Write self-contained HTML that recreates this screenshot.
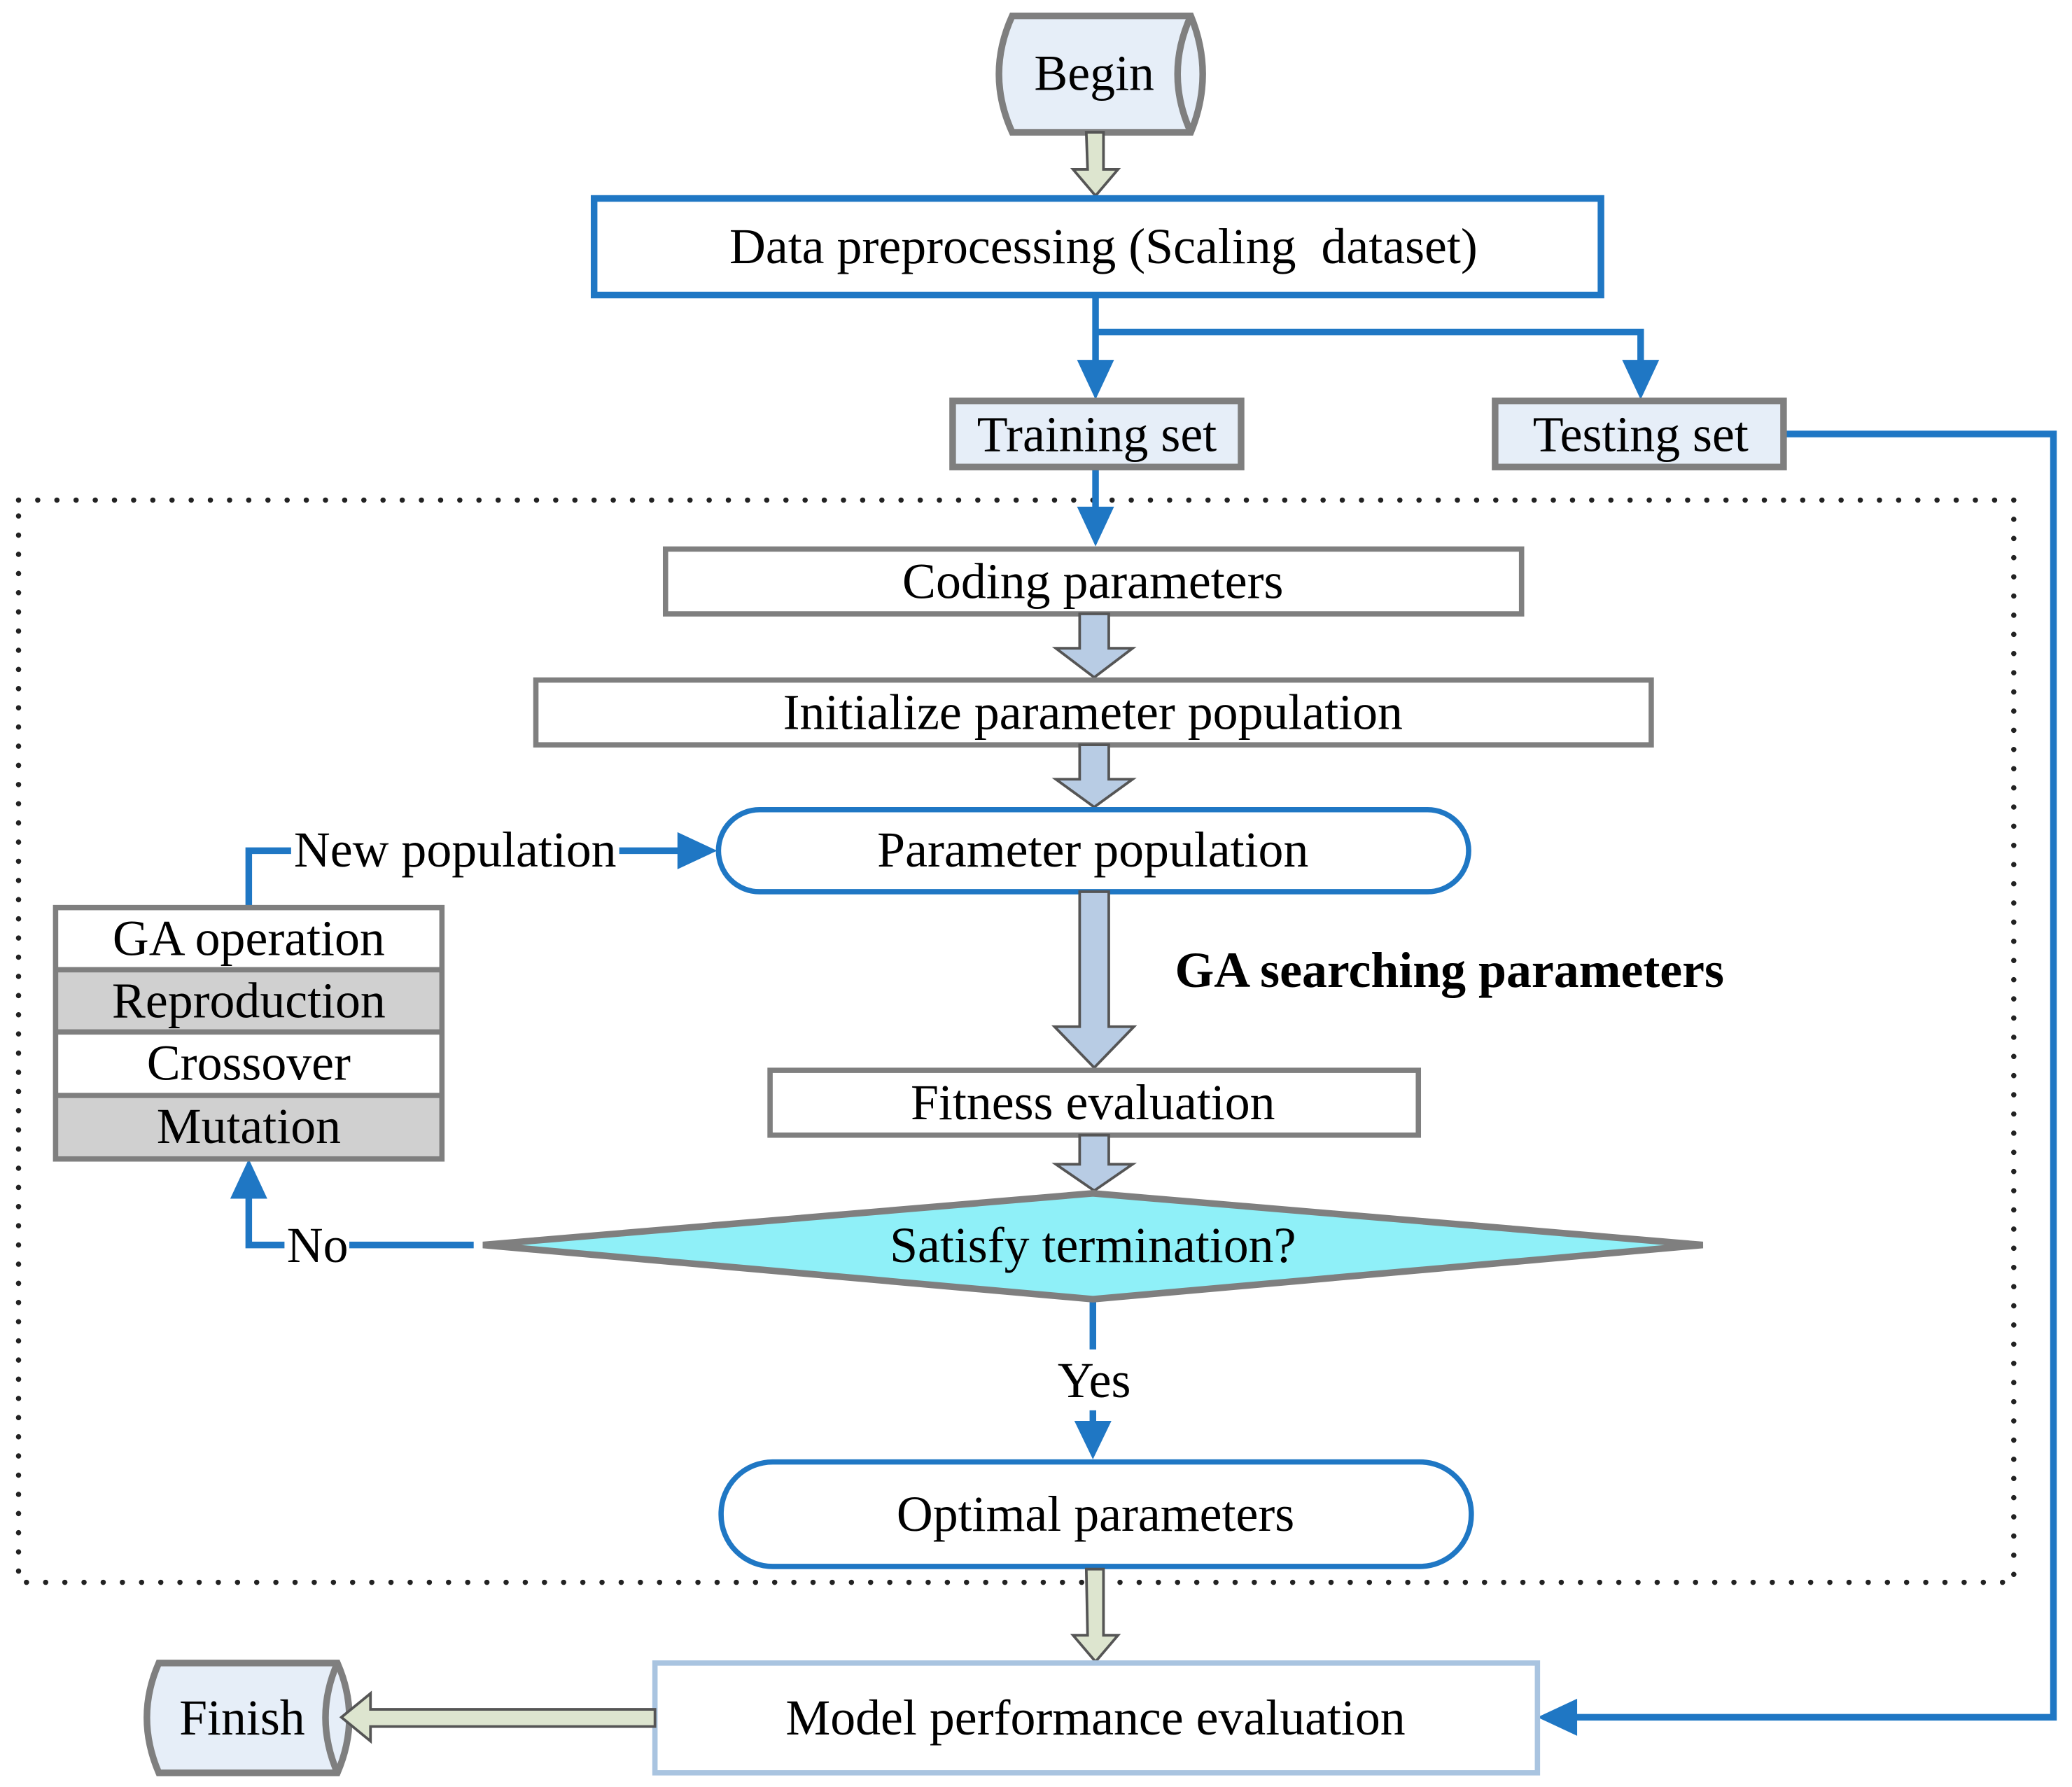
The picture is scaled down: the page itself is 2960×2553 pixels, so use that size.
<!DOCTYPE html>
<html><head><style>html,body{margin:0;padding:0;background:#fff}svg{display:block}</style></head><body>
<svg width="2960" height="2553" viewBox="0 0 1566 1350.7" xmlns="http://www.w3.org/2000/svg" font-family="'Liberation Serif',serif" font-size="38">
<rect width="1566" height="1351" fill="#fff"/>
<rect x="14" y="378" width="1508" height="818" fill="none" stroke="#222" stroke-width="4" stroke-dasharray="0 14.5" stroke-linecap="round"/>
<path d="M765,12 L900,12 Q918,56 900,100 L765,100 Q745,56 765,12Z" fill="#e6eef8" stroke="#7f7f7f" stroke-width="5"/>
<path d="M900,12 Q880,56 900,100" fill="none" stroke="#7f7f7f" stroke-width="5"/>
<text x="827" y="68" text-anchor="middle">Begin</text>
<path d="M821,100 L834,100 L834,128 L845,128 L828,148 L811,128 L822,128Z" fill="#dde5cf" stroke="#555" stroke-width="2"/>
<rect x="449" y="150" width="761" height="73" fill="#fff" stroke="#1f77c4" stroke-width="5"/>
<text x="834" y="199" text-anchor="middle">Data preprocessing (Scaling&#160; dataset)</text>
<g stroke="#1f77c4" stroke-width="5" fill="none">
<path d="M828,223 L828,282"/><path d="M828,251 L1240,251 L1240,282"/>
<path d="M1348,328 L1552,328 L1552,1298 L1185,1298"/>
<path d="M828,353 L828,395"/>
<path d="M358,941 L264,941"/><path d="M215,941 L188,941 L188,898"/>
<path d="M188,686 L188,643 L220,643"/><path d="M468,643 L520,643"/>
<path d="M826,982 L826,1020"/><path d="M826,1066 L826,1080"/>
</g>
<g fill="#1f77c4">
<path d="M814,272 L842,272 L828,302Z"/><path d="M1226,272 L1254,272 L1240,302Z"/>
<path d="M814,383 L842,383 L828,413Z"/>
<path d="M1192,1284 L1192,1312 L1162,1298Z"/>
<path d="M174,906 L202,906 L188,876Z"/>
<path d="M512,629 L512,657 L542,643Z"/>
<path d="M812,1074 L840,1074 L826,1103Z"/>
</g>
<rect x="720" y="303" width="218" height="50" fill="#e6eef8" stroke="#7f7f7f" stroke-width="5"/>
<text x="829" y="341" text-anchor="middle">Training set</text>
<rect x="1130" y="303" width="218" height="50" fill="#e6eef8" stroke="#7f7f7f" stroke-width="5"/>
<text x="1240" y="341" text-anchor="middle">Testing set</text>
<rect x="503" y="415" width="647" height="49" fill="#fff" stroke="#7f7f7f" stroke-width="4"/>
<text x="826" y="452" text-anchor="middle">Coding parameters</text>
<path d="M816,464 L838,464 L838,490 L856,490 L827,512 L798,490 L816,490Z" fill="#b8cce4" stroke="#555" stroke-width="2"/>
<rect x="405" y="514" width="843" height="49" fill="#fff" stroke="#7f7f7f" stroke-width="4"/>
<text x="826" y="551" text-anchor="middle">Initialize parameter population</text>
<path d="M816,563 L838,563 L838,589 L856,589 L827,610 L798,589 L816,589Z" fill="#b8cce4" stroke="#555" stroke-width="2"/>
<rect x="543" y="612" width="567" height="62" rx="31" fill="#fff" stroke="#1f77c4" stroke-width="4"/>
<text x="826" y="655" text-anchor="middle">Parameter population</text>
<path d="M816,674 L838,674 L838,776 L857,776 L827,807 L797,776 L816,776Z" fill="#b8cce4" stroke="#555" stroke-width="2"/>
<text x="888" y="746" font-weight="bold">GA searching parameters</text>
<rect x="582" y="809" width="490" height="49" fill="#fff" stroke="#7f7f7f" stroke-width="4"/>
<text x="826" y="846" text-anchor="middle">Fitness evaluation</text>
<path d="M816,858 L838,858 L838,880 L856,880 L827,900 L798,880 L816,880Z" fill="#b8cce4" stroke="#555" stroke-width="2"/>
<path d="M365,941 L826,902 L1287,941 L826,982Z" fill="#8ff0f8" stroke="#7f7f7f" stroke-width="5"/>
<text x="826" y="954" text-anchor="middle">Satisfy termination?</text>
<text x="240" y="954" text-anchor="middle">No</text>
<text x="827" y="1056" text-anchor="middle">Yes</text>
<text x="344" y="655" text-anchor="middle">New population</text>
<rect x="42" y="686" width="292" height="47" fill="#fff"/>
<rect x="42" y="733" width="292" height="47" fill="#d0d0d0"/>
<rect x="42" y="780" width="292" height="48" fill="#fff"/>
<rect x="42" y="828" width="292" height="48" fill="#d0d0d0"/>
<g stroke="#7f7f7f" stroke-width="4" fill="none"><rect x="42" y="686" width="292" height="190"/><path d="M42,733H334M42,780H334M42,828H334"/></g>
<text x="188" y="722" text-anchor="middle">GA operation</text>
<text x="188" y="769" text-anchor="middle">Reproduction</text>
<text x="188" y="816" text-anchor="middle">Crossover</text>
<text x="188" y="864" text-anchor="middle">Mutation</text>
<rect x="545" y="1105" width="567" height="79" rx="39" fill="#fff" stroke="#1f77c4" stroke-width="4"/>
<text x="828" y="1157" text-anchor="middle">Optimal parameters</text>
<path d="M821,1186 L834,1186 L834,1236 L845,1236 L828,1256 L811,1236 L822,1236Z" fill="#dde5cf" stroke="#555" stroke-width="2"/>
<rect x="495" y="1257" width="667" height="83" fill="#fff" stroke="#a9c4e0" stroke-width="4"/>
<text x="828" y="1311" text-anchor="middle">Model performance evaluation</text>
<path d="M120,1257 L255,1257 Q273,1298 255,1340 L120,1340 Q102,1298 120,1257Z" fill="#e6eef8" stroke="#7f7f7f" stroke-width="5"/>
<path d="M255,1257 Q237,1298 255,1340" fill="none" stroke="#7f7f7f" stroke-width="5"/>
<text x="183" y="1311" text-anchor="middle">Finish</text>
<path d="M495,1292 L495,1305 L280,1305 L280,1316 L258,1298 L280,1280 L280,1292Z" fill="#dde5cf" stroke="#555" stroke-width="2"/>
</svg>
</body></html>
